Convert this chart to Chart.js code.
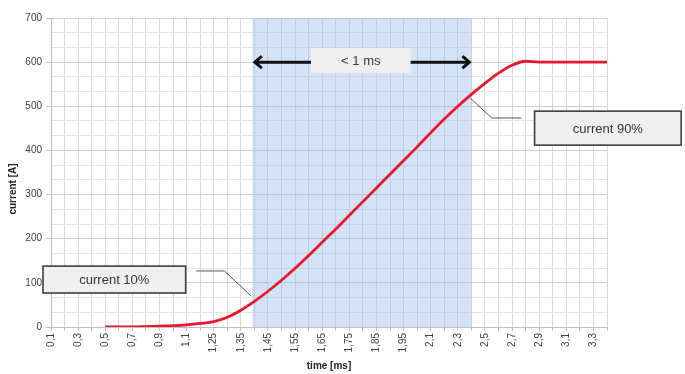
<!DOCTYPE html>
<html>
<head>
<meta charset="utf-8">
<script src="https://cdn.jsdelivr.net/npm/chart.js@4/dist/chart.umd.min.js"></script>
<style>
  html, body { margin: 0; padding: 0; background: #ffffff; }
  #wrap { position: relative; width: 685px; height: 374px; }
</style>
</head>
<body>
<div id="wrap"><canvas id="c" width="685" height="374"></canvas></div>
<script>
// Sample times [ms] – the step narrows to 0.05 ms around the rising edge
const timeMs = [
  0.1, 0.2, 0.3, 0.4, 0.5, 0.6, 0.7, 0.8, 0.9, 1.0, 1.1, 1.2,
  1.25, 1.3, 1.35, 1.4, 1.45, 1.5, 1.55, 1.6, 1.65, 1.7, 1.75, 1.8, 1.85, 1.9, 1.95, 2.0,
  2.1, 2.2, 2.3, 2.4, 2.5, 2.6, 2.7, 2.8, 2.9, 3.0, 3.1, 3.2, 3.3, 3.4
];

// Measured current [A]
const currentA = [
  null, null, null, null, 0, 0, 0, 1, 2, 3, 5, 8,
  12, 22, 38, 58, 81, 106, 133, 162, 192, 222, 253, 284, 315, 346, 377, 408,
  440, 471, 500, 527, 552, 575, 593, 602, 600, 600, 600, 600, 600, 600
];

// Axis ranges
const yMin = 0, yMax = 700, yMajor = 100, yMinor = 100 / 3;

// Highlighted rise interval, in category-index units
const riseSpan = [14.85, 31.0];
const riseArrowLevel = 600;
const riseLabel = { text: '< 1 ms', x: [19.17, 26.52], y: [575, 632] };

// Callout boxes with their leader lines (category index, current)
const callouts = [
  { text: 'current 10%', box: [-0.59, 9.93, 77, 138],
    leader: [[10.71, 127], [12.79, 127], [14.76, 70]] },
  { text: 'current 90%', box: [35.66, 46.47, 412, 489],
    leader: [[30.93, 518], [32.5, 473.5], [34.7, 473.5]] }
];

const FONT = "'Liberation Sans', Arial, sans-serif";
const fmt = v => String(v).replace('.', ',');
const isMajor = v => Math.abs(v / yMajor - Math.round(v / yMajor)) < 1e-6;

const overlay = {
  id: 'overlay',
  beforeDatasetsDraw(chart) {
    const { ctx, chartArea: a, scales: { x } } = chart;
    ctx.save();
    ctx.fillStyle = 'rgba(150, 185, 235, 0.42)';
    const x0 = x.getPixelForValue(riseSpan[0]);
    const x1 = x.getPixelForValue(riseSpan[1]);
    ctx.fillRect(x0, a.top, x1 - x0, a.bottom - a.top);
    ctx.restore();
  },
  afterDatasetsDraw(chart) {
    const { ctx, chartArea: a, scales: { x, y } } = chart;
    ctx.save();

    // double arrow across the rise interval
    const ay = y.getPixelForValue(riseArrowLevel);
    const ax0 = x.getPixelForValue(riseSpan[0]) + 1.5;
    const ax1 = x.getPixelForValue(riseSpan[1]) - 1;
    ctx.strokeStyle = '#111111';
    ctx.lineWidth = 3;
    ctx.lineJoin = 'miter';
    ctx.lineCap = 'butt';
    ctx.beginPath();
    ctx.moveTo(ax0 + 2, ay); ctx.lineTo(ax1 - 2, ay);
    ctx.stroke();
    ctx.beginPath();
    ctx.moveTo(ax0 + 8, ay - 6); ctx.lineTo(ax0 + 1, ay); ctx.lineTo(ax0 + 8, ay + 6);
    ctx.moveTo(ax1 - 8, ay - 6); ctx.lineTo(ax1 - 1, ay); ctx.lineTo(ax1 - 8, ay + 6);
    ctx.stroke();

    // label box over the arrow
    const lx0 = x.getPixelForValue(riseLabel.x[0]);
    const lx1 = x.getPixelForValue(riseLabel.x[1]);
    const ly0 = y.getPixelForValue(riseLabel.y[1]);
    const ly1 = y.getPixelForValue(riseLabel.y[0]);
    ctx.fillStyle = '#eeeeee';
    ctx.fillRect(lx0, ly0, lx1 - lx0, ly1 - ly0);
    ctx.fillStyle = '#3a3a3a';
    ctx.font = '13px ' + FONT;
    ctx.textAlign = 'center';
    ctx.textBaseline = 'middle';
    ctx.fillText(riseLabel.text, (lx0 + lx1) / 2, (ly0 + ly1) / 2 + 1);

    // callouts
    callouts.forEach(c => {
      ctx.strokeStyle = '#555555';
      ctx.lineWidth = 1;
      ctx.beginPath();
      c.leader.forEach((p, i) => {
        const px = x.getPixelForValue(p[0]), py = y.getPixelForValue(p[1]);
        if (i === 0) ctx.moveTo(px, py); else ctx.lineTo(px, py);
      });
      ctx.stroke();

      const bx0 = x.getPixelForValue(c.box[0]);
      const bx1 = x.getPixelForValue(c.box[1]);
      const by0 = y.getPixelForValue(c.box[3]);
      const by1 = y.getPixelForValue(c.box[2]);
      ctx.fillStyle = '#efefef';
      ctx.fillRect(bx0, by0, bx1 - bx0, by1 - by0);
      ctx.strokeStyle = '#3f3f3f';
      ctx.lineWidth = 1.6;
      ctx.strokeRect(bx0, by0, bx1 - bx0, by1 - by0);
      ctx.fillStyle = '#333333';
      ctx.font = '13px ' + FONT;
      ctx.textAlign = 'center';
      ctx.textBaseline = 'middle';
      ctx.fillText(c.text, (bx0 + bx1) / 2, (by0 + by1) / 2 + 1);
    });

    // axis titles
    ctx.fillStyle = '#222222';
    ctx.font = 'bold 10px ' + FONT;
    ctx.textAlign = 'center';
    ctx.textBaseline = 'middle';
    ctx.fillText('time [ms]', (a.left + a.right) / 2, 366);
    ctx.translate(13, 189);
    ctx.rotate(-Math.PI / 2);
    ctx.fillText('current [A]', 0, 0);
    ctx.restore();
  }
};

new Chart(document.getElementById('c'), {
  type: 'line',
  data: {
    labels: timeMs.map(fmt),
    datasets: [{
      data: currentA,
      borderColor: '#e8192c',
      borderWidth: 2.8,
      pointRadius: 0,
      fill: false,
      cubicInterpolationMode: 'monotone',
      spanGaps: false
    }]
  },
  options: {
    responsive: false,
    animation: false,
    devicePixelRatio: 1,
    layout: { padding: { top: 18, right: 78, bottom: 0, left: 0 } },
    plugins: { legend: { display: false }, tooltip: { enabled: false } },
    scales: {
      x: {
        type: 'category',
        offset: false,
        afterFit(s) { s.height = 47; },
        grid: { color: '#d9d9d9', lineWidth: 1, tickLength: 4, tickColor: '#bfbfbf' },
        border: { color: '#bfbfbf' },
        ticks: {
          autoSkip: false,
          maxRotation: 90,
          minRotation: 90,
          padding: 2,
          color: '#404040',
          font: { family: FONT, size: 10 },
          callback(v, i) { return i % 2 === 0 ? this.getLabelForValue(v) : ''; }
        }
      },
      y: {
        min: yMin,
        max: yMax,
        afterFit(s) { s.width = 51; },
        grid: {
          color: c => (c.tick && isMajor(c.tick.value)) ? '#cfcfcf' : '#e3e3e3',
          tickColor: c => (c.tick && isMajor(c.tick.value)) ? '#bfbfbf' : 'rgba(0,0,0,0)',
          tickLength: 5,
          lineWidth: 1
        },
        border: { color: '#bfbfbf' },
        ticks: {
          stepSize: yMinor,
          autoSkip: false,
          padding: 4,
          color: '#404040',
          font: { family: FONT, size: 10 },
          callback: v => (isMajor(v) ? String(Math.round(v)) : '')
        }
      }
    }
  },
  plugins: [overlay]
});
</script>
</body>
</html>
